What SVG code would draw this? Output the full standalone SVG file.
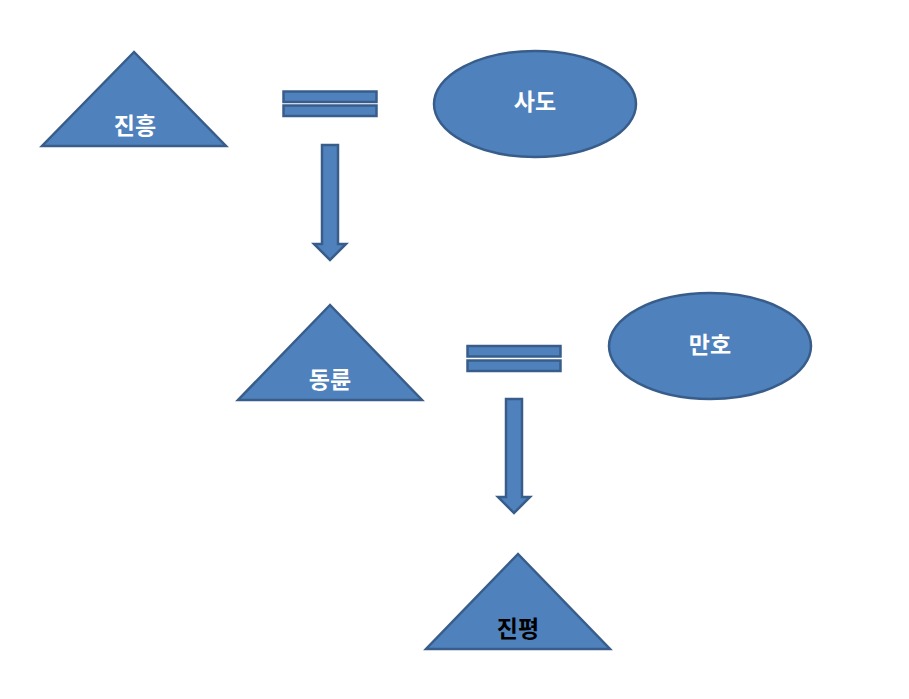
<svg xmlns="http://www.w3.org/2000/svg" width="909" height="699" viewBox="0 0 909 699">
<style>
.s{fill:#4F81BD;stroke:#385D8A;stroke-width:2.5;stroke-linejoin:miter}
.t{font-family:"Noto Sans CJK KR","Noto Sans",sans-serif;font-weight:bold;font-size:23px;text-anchor:middle;dominant-baseline:central;fill:#FFFFFF}
.k{fill:#000000}
</style>
<rect width="909" height="699" fill="#FFFFFF"/>
<g id="n-jinheung"><polygon class="s" points="134,52 42,146 226,146"/><text class="t" x="135" y="124">진흥</text></g>
<g id="n-sado"><ellipse class="s" cx="535" cy="104" rx="101" ry="53"/><text class="t" x="535" y="100">사도</text></g>
<g id="n-dongryun"><polygon class="s" points="330,305 238,400 422,400"/><text class="t" x="330" y="378">동륜</text></g>
<g id="n-manho"><ellipse class="s" cx="710" cy="346" rx="101" ry="53"/><text class="t" x="710" y="343">만호</text></g>
<g id="n-jinpyeong"><polygon class="s" points="518,554 426,649 610,649"/><text class="t k" x="518" y="627">진평</text></g>
<g id="connectors">
<rect class="s" x="283.5" y="91.5" width="93" height="10.5"/>
<rect class="s" x="283.5" y="105.5" width="93" height="10.5"/>
<polygon class="s" points="322,145 338,145 338,244 346,244 330,260 314,244 322,244"/>
<rect class="s" x="467.5" y="346" width="93" height="10.5"/>
<rect class="s" x="467.5" y="360.5" width="93" height="10.5"/>
<polygon class="s" points="506,399 522,399 522,497 530,497 514,513 498,497 506,497"/>
</g>
</svg>
